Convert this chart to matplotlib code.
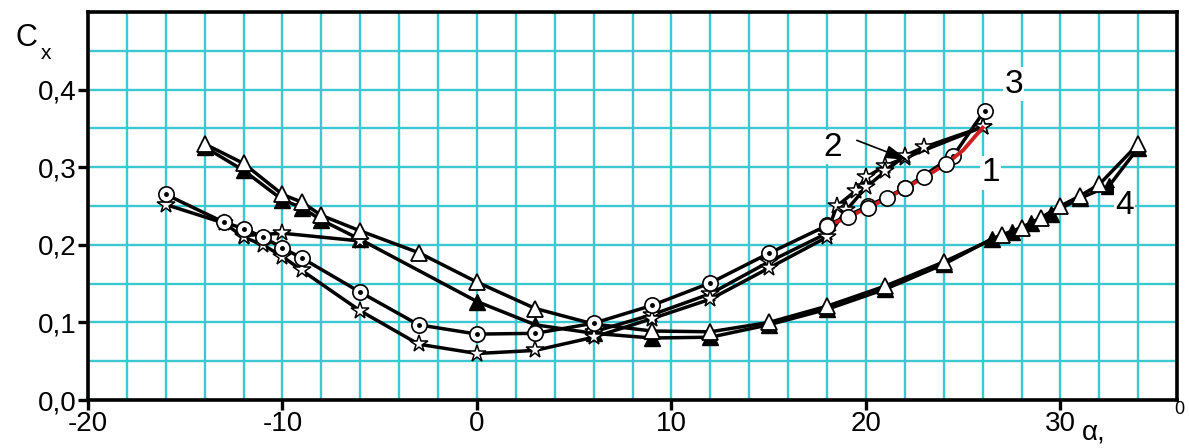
import matplotlib
matplotlib.use("Agg")
import matplotlib.pyplot as plt
from matplotlib.ticker import MultipleLocator, FixedLocator

plt.rcParams['font.family'] = ['Liberation Sans', 'DejaVu Sans']

# Curve 1 (red, open circles)
x1 = [18.0, 19.1, 20.1, 21.1, 22.0, 23.0, 24.1, 25.0, 26.0]
y1 = [0.224, 0.236, 0.248, 0.260, 0.273, 0.287, 0.304, 0.322, 0.351]
x1m = [18.0, 19.1, 20.1, 21.1, 22.0, 23.0, 24.1]
y1m = [0.224, 0.236, 0.248, 0.260, 0.273, 0.287, 0.304]

# Curve 2 (stars) - rising branch
x2a = [-16, -13, -12, -11, -10, -9, -6, -3, 0, 3, 6, 9, 12, 15, 18, 19, 20, 21, 22, 23, 26]
y2a = [0.252, 0.228, 0.210, 0.200, 0.185, 0.167, 0.115, 0.072, 0.060, 0.064, 0.081, 0.105,
       0.130, 0.170, 0.210, 0.245, 0.274, 0.295, 0.315, 0.326, 0.352]
# Curve 2 (stars) - return branch
x2b = [26, 22, 21, 20, 19.5, 18.5, 18, 15, 12, 9, 6]
y2b = [0.352, 0.312, 0.302, 0.287, 0.270, 0.250, 0.215, 0.178, 0.137, 0.110, 0.088]
x2c = [-12, -10, -6]
y2c = [0.212, 0.215, 0.205]

# Curve 3 (dotted circles)
x3 = [-16, -13, -12, -11, -10, -9, -6, -3, 0, 3, 6, 9, 12, 15, 18, 20.1, 22, 24.5, 26.1]
y3 = [0.265, 0.229, 0.221, 0.210, 0.196, 0.183, 0.139, 0.097, 0.085, 0.086, 0.099, 0.122,
      0.151, 0.189, 0.225, 0.250, 0.273, 0.315, 0.373]

# Curve 4 (triangles) - open markers
x4a = [-14, -12, -10, -9, -8, -6, -3, 0, 3, 6, 9, 12, 15, 18, 21, 24, 27, 28, 29, 30, 31, 32, 34]
y4a = [0.330, 0.305, 0.265, 0.255, 0.238, 0.218, 0.190, 0.152, 0.118, 0.098, 0.089, 0.088,
       0.100, 0.121, 0.147, 0.178, 0.213, 0.222, 0.235, 0.250, 0.263, 0.278, 0.330]
# Curve 4 (triangles) - filled markers
x4b = [-14, -12, -10, -9, -8, -6, 0, 3, 6, 9, 12, 15, 18, 21, 24, 26.5, 27.5, 28.5, 29.5, 31, 32.5, 34]
y4b = [0.326, 0.296, 0.258, 0.248, 0.232, 0.207, 0.127, 0.097, 0.086, 0.080, 0.081, 0.097,
       0.117, 0.143, 0.175, 0.208, 0.217, 0.228, 0.240, 0.260, 0.276, 0.325]

x_ticks = [-20, -10, 0, 10, 20, 30]
x_tick_labels = ['-20', '-10', '0', '10', '20', '30']
y_ticks = [0.0, 0.1, 0.2, 0.3, 0.4]
y_tick_labels = ['0,0', '0,1', '0,2', '0,3', '0,4']

curve_labels = ['1', '2', '3', '4']
curve_label_pos = [(26.4, 0.293), (18.3, 0.326), (27.6, 0.407), (33.3, 0.251)]

fig = plt.figure(figsize=(11.89, 4.48), dpi=100)
ax = fig.add_axes([0.074, 0.107, 0.916, 0.866])
ax.set_xlim(-20, 36)
ax.set_ylim(0, 0.5)

grid_c = '#3cc8d0'
ax.xaxis.set_minor_locator(MultipleLocator(2))
ax.yaxis.set_minor_locator(MultipleLocator(0.05))
ax.grid(which='minor', color=grid_c, linewidth=1.7, zorder=0)
ax.grid(which='major', color=grid_c, linewidth=1.7, zorder=0)
ax.set_axisbelow(True)

ax.xaxis.set_major_locator(FixedLocator(x_ticks))
ax.set_xticklabels(x_tick_labels)
ax.yaxis.set_major_locator(FixedLocator(y_ticks))
ax.set_yticklabels(y_tick_labels)
ax.tick_params(which='major', direction='out', length=7, width=2.4, labelsize=20, pad=1)
ax.tick_params(which='minor', length=0)
for s in ax.spines.values():
    s.set_linewidth(2.6)

lw = 2.5
# triangles
ax.plot(x4b, y4b, '-', color='black', lw=lw, marker='^', ms=11, mfc='black', mec='black', zorder=3)
ax.plot(x4a, y4a, '-', color='black', lw=lw, marker='^', ms=11, mfc='white', mec='black', mew=1.3, zorder=4)
# stars
ax.plot(x2b, y2b, '-', color='black', lw=lw, marker='*', ms=13, mfc='white', mec='black', mew=1.1, zorder=3)
ax.plot(x2c, y2c, '-', color='black', lw=lw, marker='*', ms=13, mfc='white', mec='black', mew=1.1, zorder=3)
ax.plot(x2a, y2a, '-', color='black', lw=lw, marker='*', ms=13, mfc='white', mec='black', mew=1.1, zorder=4)
# circles with dot
ax.plot(x3, y3, '-', color='black', lw=lw, marker='o', ms=11, mfc='white', mec='black', mew=1.2, zorder=5)
ax.plot(x3, y3, linestyle='none', marker='o', ms=2.5, mfc='black', mec='black', zorder=6)
# red curve 1
ax.plot(x1, y1, '-', color='#cc2020', lw=2.8, zorder=6)
ax.plot(x1m, y1m, linestyle='none', marker='o', ms=11, mfc='white', mec='black', mew=1.2, zorder=7)

for lab, (lx, ly) in zip(curve_labels, curve_label_pos):
    ax.text(lx, ly, lab, fontsize=24, ha='center', va='center', zorder=8,
            bbox=dict(facecolor='white', edgecolor='none', pad=1))

ax.annotate('', xy=(22.3, 0.308), xytext=(19.4, 0.336),
            arrowprops=dict(arrowstyle='-|>,head_length=1.4,head_width=0.4', color='black', lw=1.2),
            zorder=8)

fig.text(0.013, 0.915, 'C', fontsize=22, ha='left', va='center')
fig.text(0.034, 0.88, 'x', fontsize=15, ha='left', va='center')
fig.text(0.91, 0.035, 'α,', fontsize=20, ha='left', va='center')
fig.text(0.992, 0.085, '0', fontsize=13, ha='center', va='center')

fig.savefig('out.png', dpi=100)
